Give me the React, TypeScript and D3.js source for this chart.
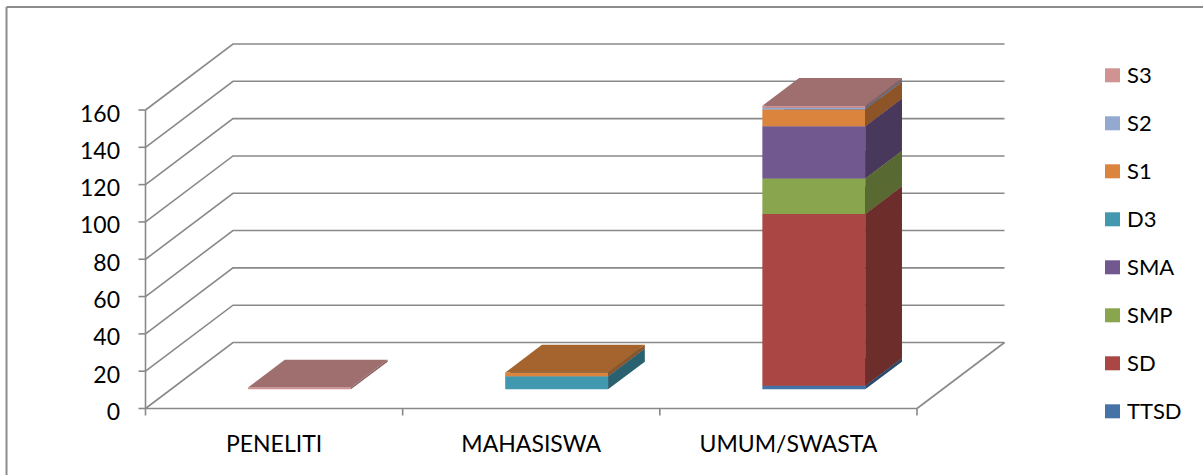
import React from 'react';
import * as d3 from 'd3';

const categories = ['PENELITI', 'MAHASISWA', 'UMUM/SWASTA'];
const seriesNames = ['TTSD', 'SD', 'SMP', 'SMA', 'D3', 'S1', 'S2', 'S3'];
const seriesColors = ['#4572A7', '#AA4643', '#89A54E', '#71588F', '#4198AF', '#DB843D', '#93A9CF', '#D19392'];

const ttsd = [0, 0, 2];
const sd = [0, 0, 92];
const smp = [0, 0, 19];
const sma = [0, 0, 28];
const d3v = [0, 7, 0];
const s1 = [0, 2, 9];
const s2 = [0, 0, 1];
const s3 = [1, 0, 1];
const seriesValues = [ttsd, sd, smp, sma, d3v, s1, s2, s3];

const yTicks = [0, 20, 40, 60, 80, 100, 120, 140, 160];

const W = 1203;
const H = 475;
const font = 'Lato, "Open Sans", sans-serif';
const gridColor = '#898989';

// oblique 3d projection: depth 0 = front plane, 1 = back wall
const DX = 87.5;
const DY = -66;
const x = d3.scaleBand<string>().domain(categories).range([145.5, 917]);
const y = d3.scaleLinear().domain([0, 160]).range([408.5, 110]);
const P = (px: number, v: number, d: number) => [px + d * DX, y(v) + d * DY];

const dFront = 0.29;
const dBack = 0.71;
const barFrac = 0.4;

const shade = (c: string, k: number) => {
  const r = d3.rgb(c);
  return d3.rgb(r.r * k, r.g * k, r.b * k).formatHex();
};

const poly = (pts: number[][]) => pts.map(p => p.join(',')).join(' ');

const App = () => {
  const table = categories.map((c, i) => {
    const row: any = { cat: c };
    seriesNames.forEach((s, j) => (row[s] = seriesValues[j][i]));
    return row;
  });
  const stacked = d3.stack().keys(seriesNames)(table);

  const bw = x.bandwidth() * barFrac;

  const bars: JSX.Element[] = [];
  categories.forEach((c, i) => {
    const x0 = (x(c) as number) + (x.bandwidth() - bw) / 2;
    const x1 = x0 + bw;
    stacked.forEach((layer, j) => {
      const [v0, v1] = layer[i];
      if (v1 - v0 <= 0) return;
      const col = seriesColors[j];
      const f = [P(x0, v0, dFront), P(x1, v0, dFront), P(x1, v1, dFront), P(x0, v1, dFront)];
      const side = [P(x1, v0, dFront), P(x1, v0, dBack), P(x1, v1, dBack), P(x1, v1, dFront)];
      const top = [P(x0, v1, dFront), P(x1, v1, dFront), P(x1, v1, dBack), P(x0, v1, dBack)];
      bars.push(
        <g key={c + j}>
          <polygon points={poly(f)} fill={col} />
          <polygon points={poly(side)} fill={shade(col, 0.64)} />
          <polygon points={poly(top)} fill={shade(col, 0.755)} />
        </g>
      );
    });
  });

  const [xl, xr] = x.range();

  return (
    <div style={{ position: 'absolute', left: 0, top: 0 }}>
      <svg width={W} height={H} style={{ display: 'block', background: '#fff' }}>
        {/* chart border (top and left visible) */}
        <line x1={6.5} y1={7} x2={W} y2={7} stroke="#8c8c8c" strokeWidth={2} />
        <line x1={6.5} y1={7} x2={6.5} y2={H} stroke="#8c8c8c" strokeWidth={2} />

        {/* gridlines on side wall + back wall */}
        {yTicks.map(t => {
          const a = P(xl, t, 0);
          const b = P(xl, t, 1);
          const e = P(xr, t, 1);
          return (
            <polyline key={'g' + t} points={poly([a, b, e])} fill="none" stroke={gridColor} strokeWidth={1.6} />
          );
        })}

        {/* floor right edge */}
        <line x1={P(xr, 0, 0)[0]} y1={P(xr, 0, 0)[1]} x2={P(xr, 0, 1)[0]} y2={P(xr, 0, 1)[1]} stroke={gridColor} strokeWidth={1.6} />

        {/* y axis */}
        <line x1={xl} y1={y(0)} x2={xl} y2={y(160)} stroke={gridColor} strokeWidth={1.6} />
        {yTicks.map(t => (
          <g key={'y' + t}>
            <line x1={xl - 7} x2={xl} y1={y(t)} y2={y(t)} stroke={gridColor} strokeWidth={1.6} />
            <text x={120} y={y(t) + 2.5} textAnchor="end" dominantBaseline="central" fontFamily={font} fontSize={23} fill="#000">
              {t}
            </text>
          </g>
        ))}

        {/* x axis */}
        <line x1={xl} y1={y(0)} x2={xr} y2={y(0)} stroke={gridColor} strokeWidth={1.6} />
        {categories.map(c => (
          <line key={'t' + c} x1={x(c) as number} x2={x(c) as number} y1={y(0)} y2={y(0) + 7} stroke={gridColor} strokeWidth={1.6} />
        ))}
        <line x1={xr} x2={xr} y1={y(0)} y2={y(0) + 7} stroke={gridColor} strokeWidth={1.6} />
        {categories.map(c => (
          <text key={'l' + c} x={(x(c) as number) + x.bandwidth() / 2} y={451.5} textAnchor="middle" fontFamily={font} fontSize={23} fill="#000">
            {c}
          </text>
        ))}

        {bars}

        {/* legend */}
        {seriesNames.slice().reverse().map((s, i) => {
          const j = seriesNames.length - 1 - i;
          const base = 83.3 + i * 48;
          return (
            <g key={'lg' + s}>
              <rect x={1105} y={base - 15} width={15} height={14} fill={seriesColors[j]} />
              <text x={1127} y={base} fontFamily={font} fontSize={22} fill="#000">
                {s}
              </text>
            </g>
          );
        })}
      </svg>
    </div>
  );
};

export default App;
